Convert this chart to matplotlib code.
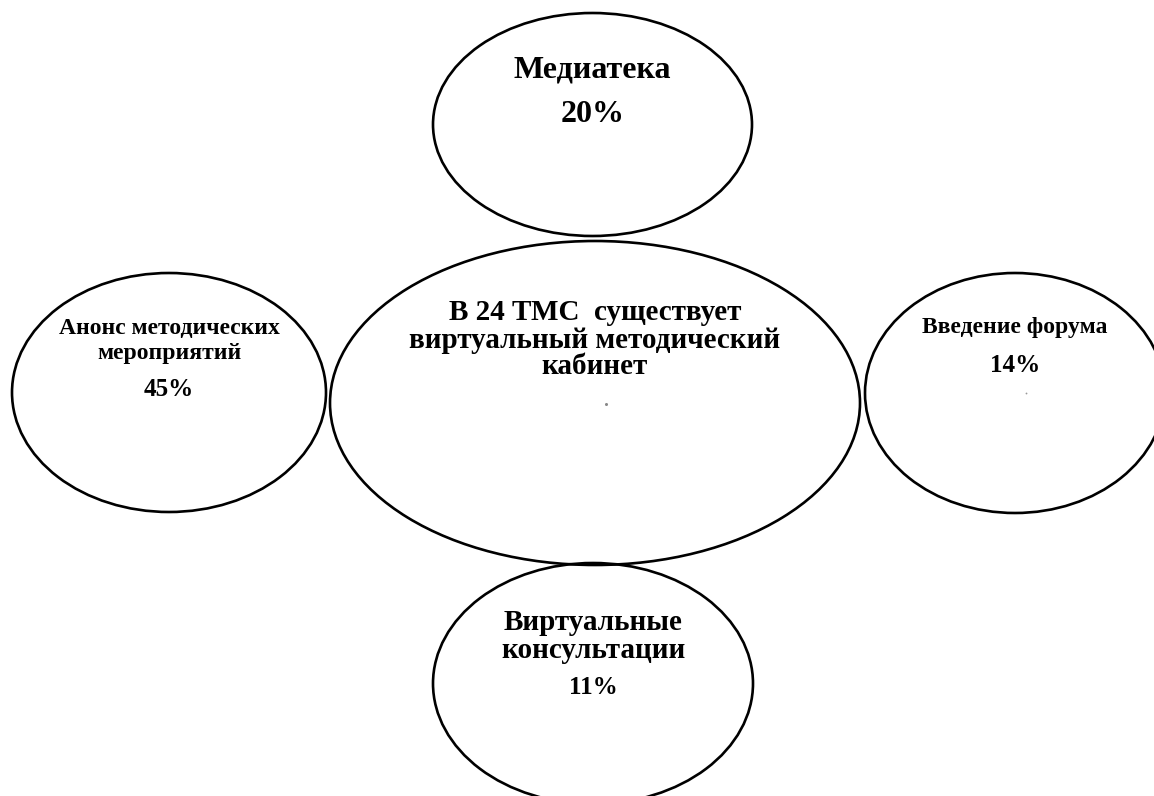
import matplotlib
matplotlib.use("Agg")
import matplotlib.pyplot as plt
from matplotlib.patches import Ellipse

# ---- data ----
titles = ["Медиатека",
          "Анонс методических\nмероприятий",
          "Введение форума",
          "Виртуальные\nконсультации"]
percents = [20, 45, 14, 11]
center_lines = ["В 24 ТМС  существует", "виртуальный методический", "кабинет"]

# ---- layout (pixel coordinates) ----
W, H = 1154, 796
# (cx, cy, width, height)
outer_ellipses = [(592.5, 124.5, 319, 223),
                  (169, 392.5, 314, 239),
                  (1015, 393, 300, 240),
                  (593, 683.5, 320, 241)]
center_ellipse = (595, 403, 530, 324)
# title line centers y, percent center y, title size, percent size
title_pos = [([70], 114, 23, 23),
             ([328, 353], 390, 17, 18),
             ([328], 365, 17, 18),
             ([623, 650], 688, 21, 18)]
center_line_y = [313, 340, 366]

fig = plt.figure(figsize=(W / 100, H / 100), dpi=100)
ax = fig.add_axes([0, 0, 1, 1])
ax.set_xlim(0, W)
ax.set_ylim(H, 0)
ax.axis("off")

font = "Liberation Serif"
lw = 1.9

for (cx, cy, w, h) in outer_ellipses:
    ax.add_patch(Ellipse((cx, cy), w, h, fill=False, edgecolor="black", lw=lw))
cx, cy, w, h = center_ellipse
ax.add_patch(Ellipse((cx, cy), w, h, fill=False, edgecolor="black", lw=lw))

for i, (title, pct) in enumerate(zip(titles, percents)):
    ys, py, ts, ps = title_pos[i]
    x = outer_ellipses[i][0]
    for line, y in zip(title.split("\n"), ys):
        ax.text(x, y, line, ha="center", va="center", fontsize=ts,
                fontweight="bold", family=font, color="black")
    ax.text(x, py, f"{pct}%", ha="center", va="center", fontsize=ps,
            fontweight="bold", family=font, color="black")

for line, y in zip(center_lines, center_line_y):
    ax.text(center_ellipse[0], y, line, ha="center", va="center", fontsize=21,
            fontweight="bold", family=font, color="black")

# small grey specks present in the original
ax.plot([606], [404], marker="o", ms=2.2, color="#888888", mec="none")
ax.plot([1026], [393], marker="o", ms=1.3, color="#999999", mec="none")

fig.savefig("out.png", dpi=100, facecolor="white")
